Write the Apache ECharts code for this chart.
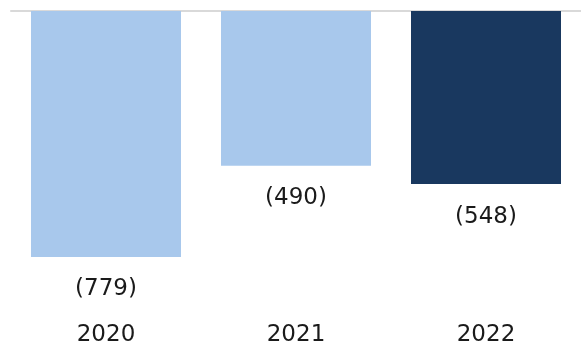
<!DOCTYPE html>
<html><head><meta charset="utf-8">
<script src="https://cdn.jsdelivr.net/npm/echarts@6/dist/echarts.min.js"></script>
<style>html,body{margin:0;padding:0;background:#fff}#c{width:581px;height:348px}</style>
</head><body><div id="c"></div>
<script>
var categories = ['2020', '2021', '2022'];
var values = [-779, -490, -548];
var valueLabels = ['(779)', '(490)', '(548)'];
var barColors = ['#a8c8ec', '#a8c8ec', '#19385f'];

var chart = echarts.init(document.getElementById('c'), null, {renderer: 'canvas'});
chart.setOption({
  animation: false,
  grid: {left: 11, right: 0, top: 11, height: 300},
  xAxis: [{
    type: 'category', data: categories, position: 'bottom',
    axisLine: {show: false}, axisTick: {show: false},
    axisLabel: {fontFamily: 'DejaVu Sans', fontSize: 23, color: '#1a1a1a', margin: 13}
  }, {
    type: 'category', data: categories, position: 'top',
    axisLine: {show: true, lineStyle: {color: '#d9d9d9', width: 2}},
    axisTick: {show: false}, axisLabel: {show: false}
  }],
  yAxis: {type: 'value', min: -950, max: 0, show: false, splitLine: {show: false}},
  series: [{
    type: 'bar', xAxisIndex: 0, barWidth: 150,
    data: values.map(function (v, i) {
      return {value: v, itemStyle: {color: barColors[i]}};
    }),
    label: {
      show: true, position: 'bottom', distance: 21,
      fontFamily: 'DejaVu Sans', fontSize: 23, color: '#1a1a1a',
      formatter: function (p) { return valueLabels[p.dataIndex]; }
    }
  }]
});
</script></body></html>
